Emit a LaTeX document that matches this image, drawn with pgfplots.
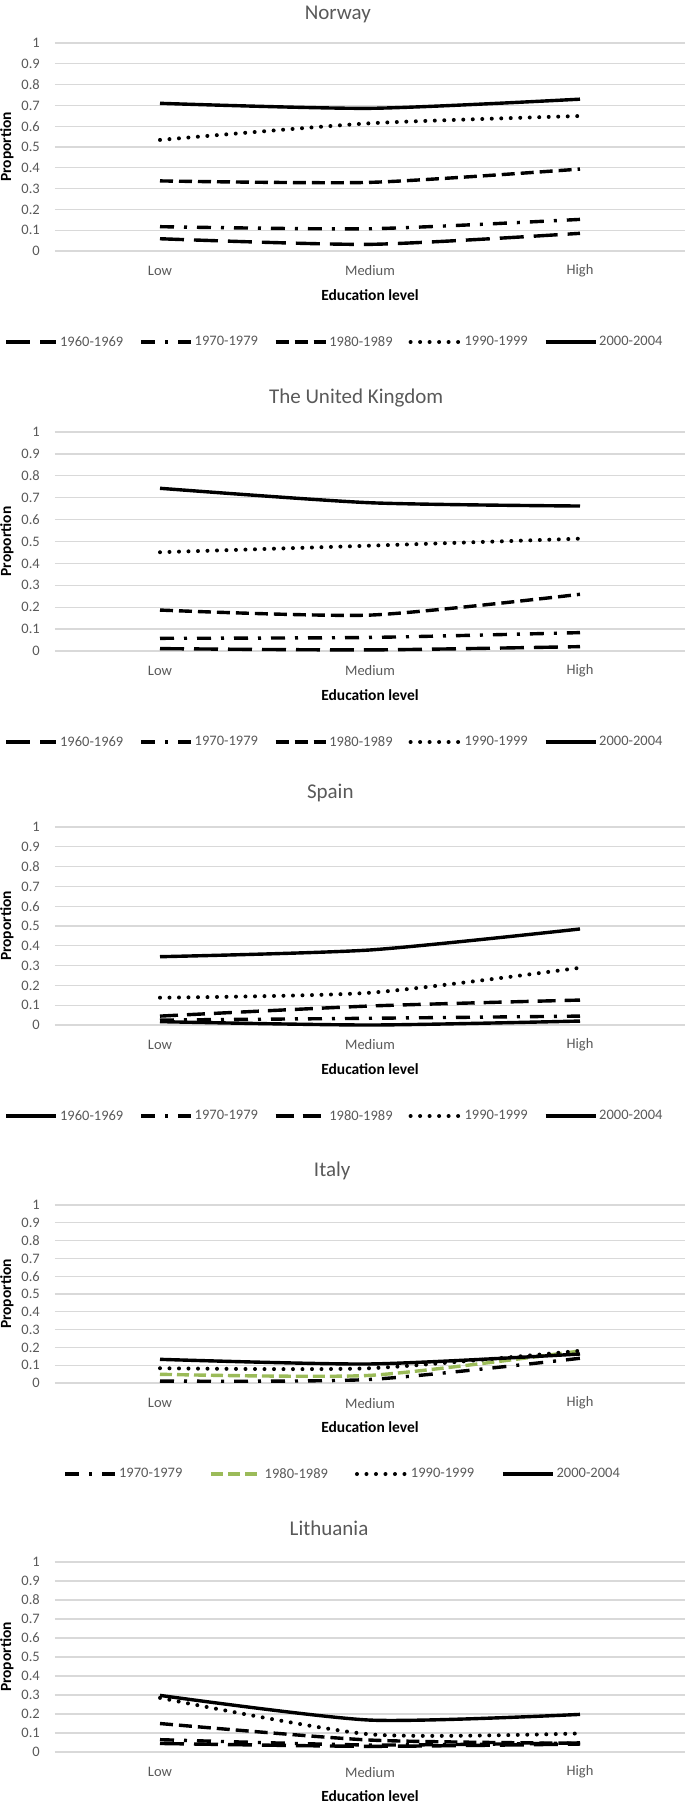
\documentclass[border=0pt]{standalone}
\usepackage{fontspec}
\setmainfont{Carlito}
\usepackage{pgfplots}
\pgfplotsset{compat=1.18}
\definecolor{txtgray}{HTML}{595959}
\definecolor{gridgray}{HTML}{D9D9D9}
\definecolor{xlgreen}{HTML}{9BBB59}
\newcommand\tickfont{\fontsize{14.5}{17}\selectfont}
\pgfplotsset{
  panel/.style={
    scale only axis, width=630pt,
    xmin=-0.5, xmax=2.5, ymin=0, ymax=1,
    clip=false,
    axis line style={draw=none},
    major tick length=0pt,
    ytick={0,0.1,0.2,0.3,0.4,0.5,0.6,0.7,0.8,0.9,1},
    yticklabels={0,0.1,0.2,0.3,0.4,0.5,0.6,0.7,0.8,0.9,1},
    xtick={0,1,2}, xticklabels={Low,Medium,High},
    /pgf/number format/assume math mode=true,
    ymajorgrids, xmajorgrids=false,
    grid style={draw=gridgray, line width=1.3pt},
    tick label style={font=\tickfont, text=txtgray},
    xticklabel style={anchor=center, inner sep=0pt, yshift=-20pt},
    yticklabel style={anchor=east, inner sep=0pt, xshift=-15pt},
    xlabel={Education level}, ylabel={Proportion},
    label style={font=\bfseries\fontsize{15.5}{18}\selectfont, text=black},
    xlabel style={at={(axis description cs:0.5,0)}, anchor=center, yshift=-44pt},
    ylabel style={at={(axis description cs:-0.0762,0.5)}, anchor=center},
    title style={font=\fontsize{21}{25}\selectfont, text=txtgray, anchor=center, inner sep=0pt, yshift=28pt},
    legend columns=-1,
    legend style={draw=none, fill=none, anchor=center, yshift=-91pt,
      font=\tickfont, text=txtgray, inner sep=0pt,
      nodes={inner sep=1pt},
      /tikz/every odd column/.append style={column sep=1pt},
      /tikz/every even column/.append style={column sep=15pt}},
    legend image code/.code={\draw[#1] (0pt,0pt) -- (50pt,0pt);},
  },
  sLong/.style={black, line width=3.4pt, dash pattern=on 24pt off 10pt, smooth, tension=0.4},
  sDashDot/.style={black, line width=3.4pt, dash pattern=on 14pt off 10pt on 3pt off 10pt, smooth, tension=0.4},
  sDash/.style={black, line width=3.4pt, dash pattern=on 13pt off 6pt, smooth, tension=0.4},
  sDot/.style={black, line width=4pt, line cap=round, dash pattern=on 0pt off 9.5pt, smooth, tension=0.4},
  sSolid/.style={black, line width=3.4pt, smooth, tension=0.4},
}
\begin{document}
\begin{tikzpicture}
\path[use as bounding box] (0pt,0pt) rectangle (685pt,-1802pt);
\clip (0pt,0pt) rectangle (685pt,-1802pt);

% Norway
\begin{axis}[panel, at={(55pt,-251pt)}, anchor=south west, height=208pt,
  title={Norway}, title style={at={(axis description cs:0.449,1)}, yshift=-5pt},
  legend style={at={(axis description cs:0.443,0)}}]
\addplot[sLong] coordinates {(0,0.059) (1,0.032) (2,0.085)};
\addlegendentry{1960-1969}
\addplot[sDashDot] coordinates {(0,0.117) (1,0.107) (2,0.152)};
\addlegendentry{1970-1979}
\addplot[sDash] coordinates {(0,0.337) (1,0.330) (2,0.394)};
\addlegendentry{1980-1989}
\addplot[sDot] coordinates {(0,0.534) (1,0.614) (2,0.649)};
\addlegendentry{1990-1999}
\addplot[sSolid] coordinates {(0,0.710) (1,0.686) (2,0.730)};
\addlegendentry{2000-2004}
\end{axis}

% United Kingdom
\begin{axis}[panel, at={(55pt,-651pt)}, anchor=south west, height=219pt,
  title={The United Kingdom}, title style={at={(axis description cs:0.478,1)}},
  legend style={at={(axis description cs:0.443,0)}}]
\addplot[sLong] coordinates {(0,0.011) (1,0.005) (2,0.020)};
\addlegendentry{1960-1969}
\addplot[sDashDot] coordinates {(0,0.058) (1,0.062) (2,0.084)};
\addlegendentry{1970-1979}
\addplot[sDash] coordinates {(0,0.187) (1,0.164) (2,0.259)};
\addlegendentry{1980-1989}
\addplot[sDot] coordinates {(0,0.451) (1,0.481) (2,0.513)};
\addlegendentry{1990-1999}
\addplot[sSolid] coordinates {(0,0.743) (1,0.677) (2,0.662)};
\addlegendentry{2000-2004}
\end{axis}

% Spain
\begin{axis}[panel, at={(55pt,-1025pt)}, anchor=south west, height=198pt,
  title={Spain}, title style={at={(axis description cs:0.437,1)}},
  legend style={at={(axis description cs:0.443,0)}}]
\addplot[sSolid] coordinates {(0,0.017) (1,0.000) (2,0.020)};
\addlegendentry{1960-1969}
\addplot[sDashDot] coordinates {(0,0.025) (1,0.034) (2,0.045)};
\addlegendentry{1970-1979}
\addplot[sDash, dash pattern=on 18pt off 9pt] coordinates {(0,0.045) (1,0.096) (2,0.126)};
\addlegendentry{1980-1989}
\addplot[sDot] coordinates {(0,0.138) (1,0.163) (2,0.289)};
\addlegendentry{1990-1999}
\addplot[sSolid] coordinates {(0,0.345) (1,0.379) (2,0.485)};
\addlegendentry{2000-2004}
\end{axis}

% Italy
\begin{axis}[panel, at={(55pt,-1383pt)}, anchor=south west, height=178pt,
  title={Italy}, title style={at={(axis description cs:0.440,1)}},
  legend style={at={(axis description cs:0.456,0)},
    /tikz/every even column/.append style={column sep=26pt}}]
\addplot[sDashDot] coordinates {(0,0.011) (1,0.020) (2,0.139)};
\addlegendentry{1970-1979}
\addplot[sDash, xlgreen, dash pattern=on 12pt off 5pt] coordinates {(0,0.049) (1,0.043) (2,0.180)};
\addlegendentry{1980-1989}
\addplot[sDot] coordinates {(0,0.083) (1,0.083) (2,0.181)};
\addlegendentry{1990-1999}
\addplot[sSolid] coordinates {(0,0.133) (1,0.107) (2,0.163)};
\addlegendentry{2000-2004}
\end{axis}

% Lithuania
\begin{axis}[panel, at={(55pt,-1752pt)}, anchor=south west, height=190pt,
  title={Lithuania}, title style={at={(axis description cs:0.435,1)}}]
\addplot[sLong] coordinates {(0,0.045) (1,0.030) (2,0.042)};
\addplot[sDashDot] coordinates {(0,0.065) (1,0.037) (2,0.048)};
\addplot[sDash] coordinates {(0,0.150) (1,0.063) (2,0.046)};
\addplot[sDot] coordinates {(0,0.285) (1,0.093) (2,0.098)};
\addplot[sSolid] coordinates {(0,0.298) (1,0.168) (2,0.198)};
\end{axis}
\end{tikzpicture}
\end{document}
